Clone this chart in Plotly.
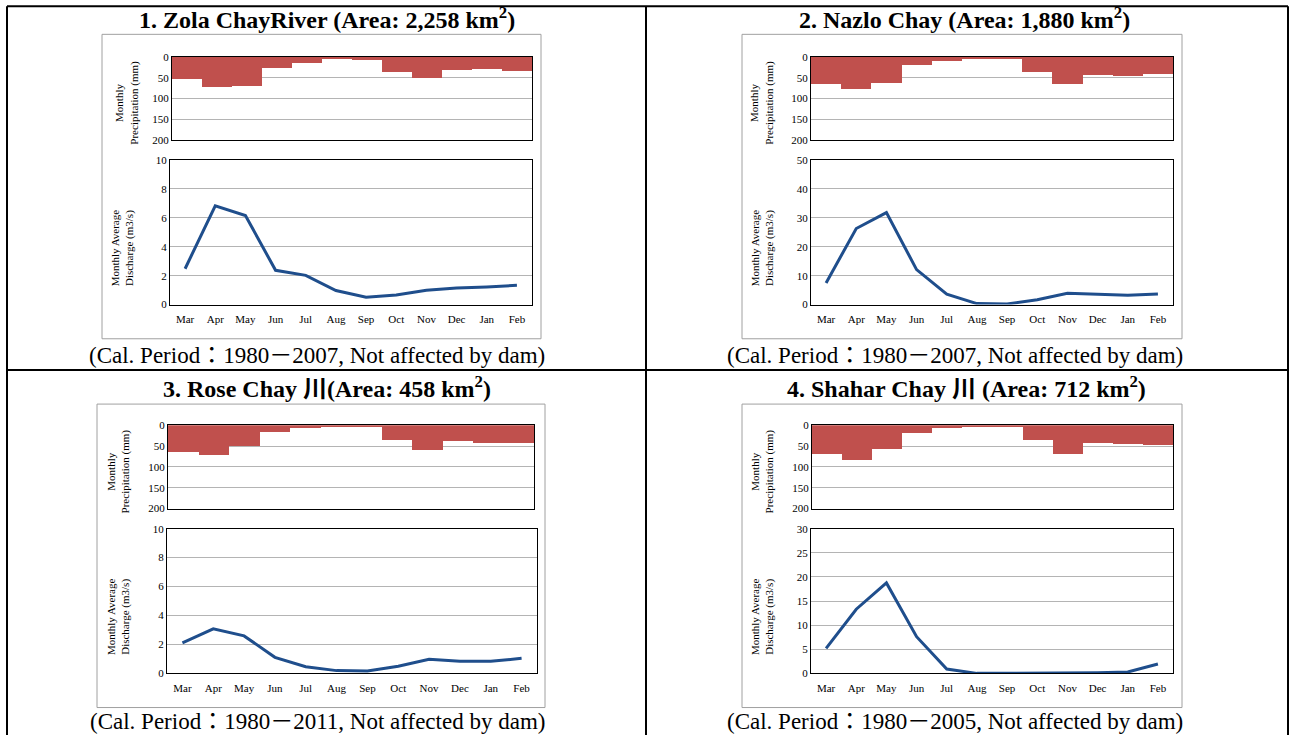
import plotly.graph_objects as go

W, H = 1295, 735

MONTHS = ["Mar", "Apr", "May", "Jun", "Jul", "Aug", "Sep", "Oct", "Nov", "Dec", "Jan", "Feb"]

# Monthly precipitation (mm)
PRECIP_ZOLA = [52, 72, 70, 27, 15, 6, 7, 37, 50, 31, 30, 34]
PRECIP_NAZLO = [64, 78, 62, 19, 10, 5, 5, 37, 65, 44, 45, 42]
PRECIP_ROSE = [64, 73, 51, 16, 6.5, 4, 5.5, 36, 60, 38, 42, 42]
PRECIP_SHAHAR = [69, 83, 58, 19, 6.5, 3, 3, 37, 69, 44, 46, 48]

# Monthly average discharge (m3/s)
DISCHARGE_ZOLA = [2.48, 6.83, 6.16, 2.37, 2.02, 0.97, 0.51, 0.67, 0.99, 1.15, 1.22, 1.33]
DISCHARGE_NAZLO = [7.5, 26.3, 31.8, 12.1, 3.6, 0.35, 0.2, 1.7, 3.9, 3.6, 3.2, 3.7]
DISCHARGE_ROSE = [2.1, 3.08, 2.59, 1.11, 0.46, 0.19, 0.16, 0.49, 0.97, 0.83, 0.83, 1.04]
DISCHARGE_SHAHAR = [5.2, 13.3, 18.75, 7.6, 0.9, 0.0, 0.0, 0.0, 0.0, 0.14, 0.28, 1.94]

DISCHARGE_RANGE = [(0, 10, 2), (0, 50, 10), (0, 10, 2), (0, 30, 5)]

TITLES = [
    "1. Zola ChayRiver (Area: 2,258 km<sup>2</sup>)",
    "2. Nazlo Chay (Area: 1,880 km<sup>2</sup>)",
    "3. Rose Chay 川(Area: 458 km<sup>2</sup>)",
    "4. Shahar Chay 川 (Area: 712 km<sup>2</sup>)",
]
CAPTIONS = [
    "(Cal. Period：1980－2007, Not affected by dam)",
    "(Cal. Period：1980－2007, Not affected by dam)",
    "(Cal. Period：1980－2011, Not affected by dam)",
    "(Cal. Period：1980－2005, Not affected by dam)",
]

PRECIP = [PRECIP_ZOLA, PRECIP_NAZLO, PRECIP_ROSE, PRECIP_SHAHAR]
DISCHARGE = [DISCHARGE_ZOLA, DISCHARGE_NAZLO, DISCHARGE_ROSE, DISCHARGE_SHAHAR]

SERIF = "'Liberation Serif', 'Times New Roman', 'Noto Sans CJK JP', serif"
BAR_COLOR = "#c0504d"
LINE_COLOR = "#1f4e8c"
GRID = "#b4b4b4"

# pixel layout of each panel: precipitation plot, discharge plot, chart frame,
# title / caption centres, y-axis title positions
PANELS = [
    dict(p=(172, 532, 58.5, 141), d=(170, 532, 161, 305), box=(102, 541, 36, 339),
         title=(327, 20), cap=(317, 356), pl=(127, 104), dl=(122, 249)),
    dict(p=(811, 1173, 58.5, 141), d=(811, 1173, 161, 305), box=(742, 1182, 36, 339),
         title=(965, 20), cap=(955, 356), pl=(762, 104), dl=(762, 249)),
    dict(p=(168, 534, 425, 508), d=(167, 537, 528, 672), box=(97, 545, 404, 706),
         title=(327, 387), cap=(317, 720), pl=(118, 471), dl=(118, 616)),
    dict(p=(812, 1173, 425, 508), d=(811, 1173, 528, 672), box=(742, 1182, 404, 706),
         title=(966, 387), cap=(955, 720), pl=(762, 471), dl=(762, 616)),
]

# the page is shown with a small vertical inset; map target pixel rows into it
Y_SCALE, Y_OFF = 0.979, 7.8


def px_x(x):
    return x / W


def px_y(y):
    yy = (y - Y_OFF) / Y_SCALE
    return 1 - yy / H


fig = go.Figure()
layout = {}
annotations = []
shapes = []

axis_font = dict(family=SERIF, size=11, color="#000")

for i, panel in enumerate(PANELS):
    pa = 2 * i + 1
    da = 2 * i + 2
    px_, dx_ = f"x{pa}", f"x{da}"
    py_, dy_ = f"y{pa}", f"y{da}"

    fig.add_trace(go.Bar(
        x=MONTHS, y=PRECIP[i], marker=dict(color=BAR_COLOR, line=dict(width=0)),
        xaxis=px_, yaxis=py_, showlegend=False,
    ))
    fig.add_trace(go.Scatter(
        x=MONTHS, y=DISCHARGE[i], mode="lines",
        line=dict(color=LINE_COLOR, width=3),
        xaxis=dx_, yaxis=dy_, showlegend=False,
    ))

    x0, x1, y0, y1 = panel["p"]
    layout[f"xaxis{pa}"] = dict(
        domain=[px_x(x0), px_x(x1)], anchor=py_, type="category",
        categoryorder="array", categoryarray=MONTHS, range=[-0.5, 11.5],
        showticklabels=False, ticks="", showgrid=False,
        showline=True, linecolor="#000", linewidth=1, mirror=True, zeroline=False,
    )
    layout[f"yaxis{pa}"] = dict(
        domain=[px_y(y1), px_y(y0)], anchor=px_, range=[200, 0],
        tickvals=[0, 50, 100, 150, 200], ticks="", tickfont=axis_font,
        showgrid=True, gridcolor=GRID, gridwidth=1,
        showline=True, linecolor="#000", linewidth=1, mirror=True, zeroline=False,
    )

    x0, x1, y0, y1 = panel["d"]
    lo, hi, step = DISCHARGE_RANGE[i]
    layout[f"xaxis{da}"] = dict(
        domain=[px_x(x0), px_x(x1)], anchor=dy_, type="category",
        categoryorder="array", categoryarray=MONTHS, range=[-0.5, 11.5],
        ticks="", tickfont=axis_font, showgrid=False, ticklabelstandoff=4,
        showline=True, linecolor="#000", linewidth=1, mirror=True, zeroline=False,
    )
    layout[f"yaxis{da}"] = dict(
        domain=[px_y(y1), px_y(y0)], anchor=dx_, range=[lo, hi], dtick=step,
        ticks="", tickfont=axis_font,
        showgrid=True, gridcolor=GRID, gridwidth=1,
        showline=True, linecolor="#000", linewidth=1, mirror=True, zeroline=False,
    )

    bx0, bx1, by0, by1 = panel["box"]
    shapes.append(dict(type="rect", xref="paper", yref="paper",
                       x0=px_x(bx0), x1=px_x(bx1), y0=px_y(by1), y1=px_y(by0),
                       line=dict(color="#a0a0a0", width=1), layer="below"))

    tx, ty = panel["title"]
    annotations.append(dict(
        text=f"<b>{TITLES[i]}</b>", x=px_x(tx), y=px_y(ty), xref="paper", yref="paper",
        xanchor="center", yanchor="middle", showarrow=False,
        font=dict(family=SERIF, size=24, color="#000"),
    ))
    cx, cy = panel["cap"]
    annotations.append(dict(
        text=CAPTIONS[i], x=px_x(cx), y=px_y(cy), xref="paper", yref="paper",
        xanchor="center", yanchor="middle", showarrow=False,
        font=dict(family=SERIF, size=23, color="#000"),
    ))
    lx, ly = panel["pl"]
    annotations.append(dict(
        text="Monthly<br>Precipitation (mm)", x=px_x(lx), y=px_y(ly),
        xref="paper", yref="paper", xanchor="center", yanchor="middle",
        textangle=-90, showarrow=False, align="center",
        font=dict(family=SERIF, size=11, color="#000"),
    ))
    lx, ly = panel["dl"]
    annotations.append(dict(
        text="Monthly Average<br>Discharge (m3/s)", x=px_x(lx), y=px_y(ly),
        xref="paper", yref="paper", xanchor="center", yanchor="middle",
        textangle=-90, showarrow=False, align="center",
        font=dict(family=SERIF, size=11, color="#000"),
    ))

# table grid lines
TABLE_LINE = dict(color="#000", width=2)
for (x0, y0, x1, y1) in [
    (7, 8, 1288, 8),        # top
    (7, 8, 7, 740),         # left
    (1288, 8, 1288, 740),   # right
    (646, 8, 646, 740),     # middle
    (7, 370, 1288, 370),    # row divider
]:
    shapes.append(dict(type="line", xref="paper", yref="paper",
                       x0=px_x(x0), x1=px_x(x1), y0=px_y(y0), y1=px_y(y1),
                       line=TABLE_LINE))

fig.update_layout(
    width=W, height=H,
    margin=dict(l=0, r=0, t=0, b=0),
    paper_bgcolor="#fff", plot_bgcolor="#fff",
    bargap=0,
    font=dict(family=SERIF),
    annotations=annotations,
    shapes=shapes,
    **layout,
)

fig.write_html("out.html")
